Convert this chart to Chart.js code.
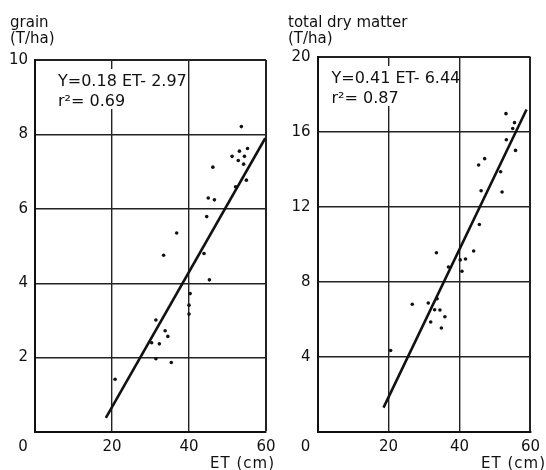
<!DOCTYPE html>
<html>
<head>
<meta charset="utf-8">
<script src="https://cdn.jsdelivr.net/npm/chart.js"></script>
<style>
html, body { margin: 0; padding: 0; background: #fff; }
#wrap { display: flex; width: 546px; height: 470px; }
canvas { display: block; }
</style>
</head>
<body>
<div id="wrap">
  <canvas id="grainChart" width="282" height="470"></canvas>
  <canvas id="dmChart" width="264" height="470"></canvas>
</div>
<script>
// grain yield vs ET
const grainET = [20.8, 31.4, 35.4, 30.3, 32.3, 33.8, 34.5, 31.4, 40.0, 40.0, 40.3, 45.3, 33.4, 43.9, 36.8, 44.6, 45.0, 46.6, 52.1, 54.9, 46.2, 54.2, 52.8, 51.2, 54.4, 53.1, 55.2, 53.6];
const grainYield = [1.42, 1.97, 1.87, 2.40, 2.37, 2.72, 2.57, 3.01, 3.17, 3.41, 3.72, 4.09, 4.75, 4.80, 5.35, 5.79, 6.29, 6.24, 6.59, 6.77, 7.12, 7.20, 7.30, 7.41, 7.41, 7.55, 7.62, 8.21];
const grainFitET = [18.4, 59.8];
const grainFitY = [0.38, 7.9];

// total dry matter vs ET
const dmET = [20.6, 26.7, 31.2, 31.9, 33.0, 34.5, 34.9, 35.9, 33.7, 33.5, 36.9, 40.2, 41.7, 40.7, 44.0, 45.6, 46.1, 52.0, 51.6, 45.4, 47.1, 55.8, 53.2, 55.0, 55.5, 53.1];
const dmYield = [4.35, 6.81, 6.88, 5.87, 6.52, 6.51, 5.55, 6.15, 7.11, 9.56, 8.80, 9.18, 9.23, 8.57, 9.65, 11.07, 12.87, 12.80, 13.88, 14.24, 14.58, 15.02, 15.59, 16.19, 16.50, 16.98];
const dmFitET = [18.6, 58.9];
const dmFitY = [1.3, 17.2];

const xTicks = [0, 20, 40, 60];
const FONT = "DejaVu Sans";

function pts(xs, ys) {
    return xs.map((x, i) => ({ x: x, y: ys[i] }));
}

// titles, equation box, corner "0" and "ET (cm)"
const panelText = {
    id: "panelText",
    afterDraw(chart, args, o) {
        const ctx = chart.ctx;
        const a = chart.chartArea;
        ctx.save();
        ctx.fillStyle = "#111";
        ctx.textBaseline = "alphabetic";
        ctx.font = "15px '" + FONT + "'";
        ctx.textAlign = "left";
        ctx.fillText(o.title, o.titleX, 27);
        ctx.fillText("(T/ha)", o.titleX, 43);

        ctx.font = "16px '" + FONT + "'";
        const nx = a.left + o.noteDx;
        const w = Math.max(ctx.measureText(o.eq).width, ctx.measureText(o.r2).width);
        // blank the grid only up to the 40 line, which stays visible
        const stop = chart.scales.x.getPixelForValue(40) - 2;
        ctx.fillStyle = "#fff";
        ctx.fillRect(nx - 2, a.top + 9, Math.min(w + 4, stop - nx + 2), 40);
        ctx.fillStyle = "#111";
        ctx.fillText(o.eq, nx, a.top + 26);
        ctx.fillText(o.r2, nx, a.top + 46);

        ctx.font = "15px '" + FONT + "'";
        ctx.textAlign = "center";
        ctx.textBaseline = "middle";
        ctx.fillText("0", a.left - 12, a.bottom + 15);

        ctx.textAlign = "right";
        ctx.letterSpacing = "1px";
        ctx.fillText("ET (cm)", o.xTitleRight, 464);
        ctx.restore();
    }
};

function makeChart(id, cfg) {
    const ctx = document.getElementById(id).getContext("2d");
    return new Chart(ctx, {
        type: "scatter",
        data: {
            datasets: [{
                data: pts(cfg.xs, cfg.ys),
                backgroundColor: "#111",
                borderColor: "#111",
                pointRadius: 1.8,
                pointBorderWidth: 0
            }, {
                data: pts(cfg.fitX, cfg.fitY),
                showLine: true,
                borderColor: "#111",
                borderWidth: 2.6,
                pointRadius: 0
            }]
        },
        options: {
            responsive: false,
            animation: false,
            layout: { padding: { top: cfg.top, right: cfg.right, left: 0, bottom: 0 } },
            plugins: {
                legend: { display: false },
                tooltip: { enabled: false },
                panelText: cfg.text
            },
            scales: {
                x: {
                    type: "linear",
                    min: 0, max: 60,
                    afterBuildTicks: s => { s.ticks = xTicks.map(v => ({ value: v })); },
                    afterFit: s => { s.height = 38; },
                    grid: {
                        color: "#222",
                        lineWidth: c => (c.tick && c.tick.value === 60 ? 2 : 1.4),
                        drawTicks: false
                    },
                    border: { color: "#111", width: 2 },
                    ticks: {
                        padding: 6,
                        color: "#111",
                        font: { family: FONT, size: 15 },
                        callback: v => (v === 0 ? "" : v)
                    }
                },
                y: {
                    min: 0, max: cfg.ymax,
                    afterFit: s => { s.width = cfg.yWidth; },
                    grid: {
                        color: "#222",
                        lineWidth: c => (c.tick && c.tick.value === cfg.ymax ? 2 : 1.4),
                        drawTicks: false
                    },
                    border: { color: "#111", width: 2 },
                    ticks: {
                        stepSize: cfg.ystep,
                        padding: 7,
                        color: "#111",
                        font: { family: FONT, size: 15 },
                        callback: v => (v === 0 ? "" : v)
                    }
                }
            }
        },
        plugins: [panelText]
    });
}

makeChart("grainChart", {
    xs: grainET, ys: grainYield, fitX: grainFitET, fitY: grainFitY,
    ymax: 10, ystep: 2, yWidth: 35, top: 60, right: 16,
    text: { title: "grain", titleX: 10, eq: "Y=0.18 ET- 2.97", r2: "r²= 0.69", noteDx: 23, xTitleRight: 275 }
});

makeChart("dmChart", {
    xs: dmET, ys: dmYield, fitX: dmFitET, fitY: dmFitY,
    ymax: 20, ystep: 4, yWidth: 35.5, top: 57, right: 5,
    text: { title: "total dry matter", titleX: 6, eq: "Y=0.41 ET- 6.44", r2: "r²= 0.87", noteDx: 14, xTitleRight: 264 }
});
</script>
</body>
</html>
